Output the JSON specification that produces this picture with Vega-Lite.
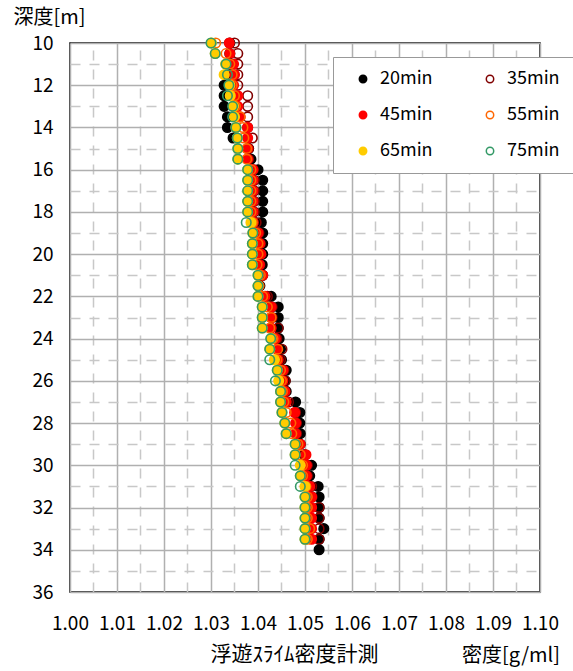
{
  "$schema": "https://vega.github.io/schema/vega-lite/v6.json",
  "autosize": "none",
  "width": 470,
  "height": 549,
  "padding": {"left": 70, "top": 43, "right": 33, "bottom": 79},
  "background": "white",
  "config": {
    "font": "Noto Sans CJK JP",
    "view": {"stroke": "black", "strokeWidth": 1.5}
  },
  "title": {
    "text": "密度[g/ml]",
    "orient": "bottom", "anchor": "end", "frame": "group",
    "fontSize": 20, "fontWeight": "normal", "color": "black",
    "baseline": "alphabetic", "offset": 0, "dx": 20, "dy": -2
  },
  "data": {
    "values": [
      {"d": 10, "20min": 1.0340, "35min": 1.0350, "45min": 1.0339, "55min": 1.0310, "65min": 1.0301, "75min": 1.0300},
      {"d": 10.5, "20min": 1.0340, "35min": 1.0357, "45min": 1.0340, "55min": 1.0332, "65min": 1.0309, "75min": 1.0309},
      {"d": 11, "20min": 1.0342, "35min": 1.0357, "45min": 1.0348, "55min": 1.0340, "65min": 1.0331, "75min": 1.0332},
      {"d": 11.5, "20min": 1.0340, "35min": 1.0357, "45min": 1.0350, "55min": 1.0345, "65min": 1.0328, "75min": 1.0335},
      {"d": 12, "20min": 1.0328, "35min": 1.0357, "45min": 1.0348, "55min": 1.0345, "65min": 1.0340, "75min": 1.0338},
      {"d": 12.5, "20min": 1.0328, "35min": 1.0378, "45min": 1.0357, "55min": 1.0350, "65min": 1.0341, "75min": 1.0335},
      {"d": 13, "20min": 1.0328, "35min": 1.0378, "45min": 1.0357, "55min": 1.0352, "65min": 1.0348, "75min": 1.0346},
      {"d": 13.5, "20min": 1.0335, "35min": 1.0378, "45min": 1.0362, "55min": 1.0362, "65min": 1.0350, "75min": 1.0346},
      {"d": 14, "20min": 1.0335, "35min": 1.0378, "45min": 1.0378, "55min": 1.0368, "65min": 1.0353, "75min": 1.0353},
      {"d": 14.5, "20min": 1.0347, "35min": 1.0388, "45min": 1.0378, "55min": 1.0370, "65min": 1.0356, "75min": 1.0356},
      {"d": 15, "20min": 1.0380, "35min": 1.0380, "45min": 1.0378, "55min": 1.0376, "65min": 1.0357, "75min": 1.0357},
      {"d": 15.5, "20min": 1.0385, "35min": 1.0380, "45min": 1.0378, "55min": 1.0376, "65min": 1.0357, "75min": 1.0357},
      {"d": 16, "20min": 1.0400, "35min": 1.0390, "45min": 1.0389, "55min": 1.0385, "65min": 1.0378, "75min": 1.0378},
      {"d": 16.5, "20min": 1.0410, "35min": 1.0392, "45min": 1.0389, "55min": 1.0385, "65min": 1.0378, "75min": 1.0378},
      {"d": 17, "20min": 1.0410, "35min": 1.0392, "45min": 1.0389, "55min": 1.0385, "65min": 1.0378, "75min": 1.0378},
      {"d": 17.5, "20min": 1.0410, "35min": 1.0392, "45min": 1.0389, "55min": 1.0385, "65min": 1.0378, "75min": 1.0378},
      {"d": 18, "20min": 1.0410, "35min": 1.0392, "45min": 1.0389, "55min": 1.0385, "65min": 1.0378, "75min": 1.0378},
      {"d": 18.5, "20min": 1.0407, "35min": 1.0396, "45min": 1.0390, "55min": 1.0388, "65min": 1.0385, "75min": 1.0375},
      {"d": 19, "20min": 1.0410, "35min": 1.0402, "45min": 1.0400, "55min": 1.0395, "65min": 1.0389, "75min": 1.0389},
      {"d": 19.5, "20min": 1.0410, "35min": 1.0405, "45min": 1.0404, "55min": 1.0400, "65min": 1.0388, "75min": 1.0388},
      {"d": 20, "20min": 1.0410, "35min": 1.0406, "45min": 1.0406, "55min": 1.0400, "65min": 1.0388, "75min": 1.0388},
      {"d": 20.5, "20min": 1.0409, "35min": 1.0404, "45min": 1.0403, "55min": 1.0398, "65min": 1.0388, "75min": 1.0388},
      {"d": 21, "20min": 1.0410, "35min": 1.0408, "45min": 1.0410, "55min": 1.0405, "65min": 1.0400, "75min": 1.0400},
      {"d": 21.5, "20min": 1.0404, "35min": 1.0402, "45min": 1.0402, "55min": 1.0402, "65min": 1.0400, "75min": 1.0400},
      {"d": 22, "20min": 1.0428, "35min": 1.0420, "45min": 1.0415, "55min": 1.0410, "65min": 1.0400, "75min": 1.0400},
      {"d": 22.5, "20min": 1.0443, "35min": 1.0430, "45min": 1.0428, "55min": 1.0420, "65min": 1.0409, "75min": 1.0409},
      {"d": 23, "20min": 1.0443, "35min": 1.0430, "45min": 1.0428, "55min": 1.0428, "65min": 1.0409, "75min": 1.0409},
      {"d": 23.5, "20min": 1.0443, "35min": 1.0443, "45min": 1.0428, "55min": 1.0425, "65min": 1.0409, "75min": 1.0409},
      {"d": 24, "20min": 1.0445, "35min": 1.0440, "45min": 1.0437, "55min": 1.0432, "65min": 1.0428, "75min": 1.0427},
      {"d": 24.5, "20min": 1.0448, "35min": 1.0451, "45min": 1.0440, "55min": 1.0442, "65min": 1.0425, "75min": 1.0425},
      {"d": 25, "20min": 1.0450, "35min": 1.0448, "45min": 1.0443, "55min": 1.0440, "65min": 1.0435, "75min": 1.0425},
      {"d": 25.5, "20min": 1.0460, "35min": 1.0455, "45min": 1.0453, "55min": 1.0448, "65min": 1.0441, "75min": 1.0441},
      {"d": 26, "20min": 1.0458, "35min": 1.0458, "45min": 1.0453, "55min": 1.0450, "65min": 1.0444, "75min": 1.0437},
      {"d": 26.5, "20min": 1.0460, "35min": 1.0458, "45min": 1.0457, "55min": 1.0452, "65min": 1.0448, "75min": 1.0448},
      {"d": 27, "20min": 1.0480, "35min": 1.0465, "45min": 1.0460, "55min": 1.0455, "65min": 1.0448, "75min": 1.0448},
      {"d": 27.5, "20min": 1.0489, "35min": 1.0480, "45min": 1.0478, "55min": 1.0460, "65min": 1.0451, "75min": 1.0451},
      {"d": 28, "20min": 1.0489, "35min": 1.0482, "45min": 1.0480, "55min": 1.0470, "65min": 1.0457, "75min": 1.0457},
      {"d": 28.5, "20min": 1.0490, "35min": 1.0482, "45min": 1.0480, "55min": 1.0472, "65min": 1.0460, "75min": 1.0460},
      {"d": 29, "20min": 1.0490, "35min": 1.0488, "45min": 1.0490, "55min": 1.0485, "65min": 1.0479, "75min": 1.0479},
      {"d": 29.5, "20min": 1.0500, "35min": 1.0498, "45min": 1.0502, "55min": 1.0490, "65min": 1.0479, "75min": 1.0479},
      {"d": 30, "20min": 1.0514, "35min": 1.0505, "45min": 1.0503, "55min": 1.0495, "65min": 1.0490, "75min": 1.0479},
      {"d": 30.5, "20min": 1.0510, "35min": 1.0505, "45min": 1.0503, "55min": 1.0495, "65min": 1.0490, "75min": 1.0490},
      {"d": 31, "20min": 1.0528, "35min": 1.0514, "45min": 1.0510, "55min": 1.0502, "65min": 1.0500, "75min": 1.0490},
      {"d": 31.5, "20min": 1.0530, "35min": 1.0515, "45min": 1.0514, "55min": 1.0505, "65min": 1.0500, "75min": 1.0500},
      {"d": 32, "20min": 1.0530, "35min": 1.0530, "45min": 1.0514, "55min": 1.0505, "65min": 1.0500, "75min": 1.0500},
      {"d": 32.5, "20min": 1.0530, "35min": 1.0530, "45min": 1.0514, "55min": 1.0505, "65min": 1.0500, "75min": 1.0500},
      {"d": 33, "20min": 1.0540, "35min": 1.0530, "45min": 1.0514, "55min": 1.0510, "65min": 1.0500, "75min": 1.0500},
      {"d": 33.5, "20min": 1.0530, "35min": 1.0530, "45min": 1.0514, "55min": 1.0505, "65min": 1.0500, "75min": 1.0500},
      {"d": 34, "20min": 1.0530}
    ]
  },
  "transform": [
    {"fold": ["20min", "35min", "45min", "55min", "65min", "75min"], "as": ["t", "v"]}
  ],
  "mark": {"type": "point", "shape": "circle", "filled": true, "size": 90, "strokeWidth": 1.6, "opacity": 1},
  "encoding": {
    "x": {
      "field": "v", "type": "quantitative",
      "scale": {"domain": [1.0, 1.1], "nice": false, "zero": false},
      "axis": {
        "values": [1.0, 1.005, 1.01, 1.015, 1.02, 1.025, 1.03, 1.035, 1.04, 1.045, 1.05, 1.055, 1.06, 1.065, 1.07, 1.075, 1.08, 1.085, 1.09, 1.095, 1.1],
        "labelExpr": "round(datum.value*200) % 2 == 1 ? '' : format(datum.value, '.2f')",
        "labelOverlap": false, "labelFlush": false,
        "labelFontSize": 19, "labelColor": "black", "labelPadding": 22,
        "ticks": false, "domain": false,
        "grid": true,
        "gridColor": {"condition": {"test": "round(datum.value*200) % 2 == 1", "value": "#c8c8c8"}, "value": "#b0b0b0"},
        "gridDash": {"condition": {"test": "round(datum.value*200) % 2 == 1", "value": [10, 9]}, "value": []},
        "gridWidth": 1.5,
        "title": "浮遊ｽﾗｲﾑ密度計測",
        "titleFontSize": 21, "titleFontWeight": "normal", "titleColor": "black",
        "titleAnchor": "start", "titleAlign": "left", "titleBaseline": "alphabetic",
        "titleX": 140, "titleY": 68
      }
    },
    "y": {
      "field": "d", "type": "quantitative",
      "scale": {"domain": [10, 36], "reverse": true, "nice": false, "zero": false},
      "axis": {
        "values": [10, 11, 12, 13, 14, 15, 16, 17, 18, 19, 20, 21, 22, 23, 24, 25, 26, 27, 28, 29, 30, 31, 32, 33, 34, 35, 36],
        "labelExpr": "datum.value % 2 == 1 ? '' : datum.label",
        "labelOverlap": false, "labelFlush": false,
        "labelFontSize": 19, "labelColor": "black", "labelPadding": 17,
        "ticks": false, "domain": false,
        "grid": true,
        "gridColor": {"condition": {"test": "datum.value % 2 == 1", "value": "#c8c8c8"}, "value": "#b0b0b0"},
        "gridDash": {"condition": {"test": "datum.value % 2 == 1", "value": [10, 9]}, "value": []},
        "gridWidth": 1.5,
        "title": "深度[m]",
        "titleFontSize": 20, "titleFontWeight": "normal", "titleColor": "black",
        "titleAngle": 0, "titleAlign": "left", "titleBaseline": "alphabetic",
        "titleX": -57, "titleY": -20
      }
    },
    "fill": {
      "field": "t", "type": "nominal",
      "scale": {"domain": ["20min", "35min", "45min", "55min", "65min", "75min"], "range": ["#000000", "transparent", "#FF0000", "transparent", "#FFCC00", "transparent"]},
      "legend": {"title": null}
    },
    "stroke": {
      "field": "t", "type": "nominal",
      "scale": {"domain": ["20min", "35min", "45min", "55min", "65min", "75min"], "range": ["#000000", "#800000", "#FF0000", "#FF6600", "#FFCC00", "#339966"]},
      "legend": {
        "title": null, "orient": "none", "legendX": 263, "legendY": 14,
        "direction": "horizontal",
        "columns": 2, "columnPadding": 40, "rowPadding": 18,
        "padding": 13, "symbolOffset": 8, "symbolSize": 55, "symbolStrokeWidth": 1.5,
        "labelFontSize": 18, "labelColor": "black", "labelOffset": 8,
        "fillColor": "white", "strokeColor": "#999999"
      }
    }
  }
}
